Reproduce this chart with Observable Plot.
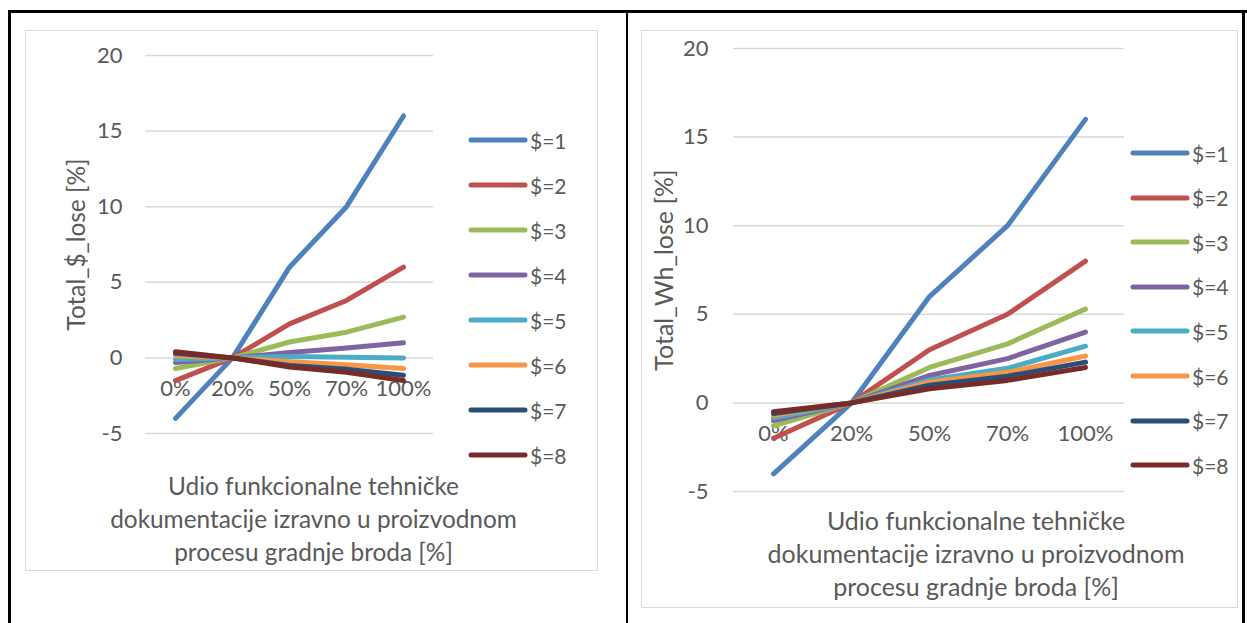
<!DOCTYPE html>
<html>
<head>
<meta charset="utf-8">
<script src="https://cdn.jsdelivr.net/npm/d3@7"></script>
<script src="https://cdn.jsdelivr.net/npm/@observablehq/plot@0.6"></script>
<style>
  html, body { margin: 0; padding: 0; background: #fff; }
  body { width: 1247px; height: 623px; position: relative; overflow: hidden; font-family: Lato, "Open Sans", sans-serif; }
  .line { position: absolute; background: #000; }
  .box { position: absolute; border: 1.5px solid #d9d9d9; box-sizing: border-box; }
  .chart { position: absolute; }
  .leg { position: absolute; display: flex; align-items: center; color: #595959; white-space: nowrap; }
</style>
</head>
<body>
<div class="line" style="left:8px;top:10px;width:1239px;height:2.5px"></div>
<div class="line" style="left:8px;top:10px;width:2.5px;height:613px"></div>
<div class="line" style="left:626px;top:10px;width:2px;height:613px"></div>
<div class="line" style="left:1242px;top:10px;width:2.5px;height:613px"></div>
<div class="box" style="left:25px;top:30px;width:573px;height:541px"></div>
<div class="box" style="left:641px;top:30px;width:597px;height:578px"></div>
<div id="left" class="chart" style="left:25px;top:30px"></div>
<div id="right" class="chart" style="left:641px;top:30px"></div>
<script>
// ---- data ----
const categories = ["0%", "20%", "50%", "70%", "100%"];
const seriesNames = ["$=1", "$=2", "$=3", "$=4", "$=5", "$=6", "$=7", "$=8"];
const seriesColors = ["#4F81BD", "#C0504D", "#9BBB59", "#8064A2", "#4BACC6", "#F79646", "#2C4D75", "#772C2A"];
const yTicks = [-5, 0, 5, 10, 15, 20];

// Total_$_lose [%]
const dollarLose1 = [-4, 0, 6, 10, 16];
const dollarLose2 = [-1.5, 0, 2.25, 3.8, 6];
const dollarLose3 = [-0.7, 0, 1.05, 1.7, 2.7];
const dollarLose4 = [-0.3, 0, 0.35, 0.65, 1.0];
const dollarLose5 = [-0.1, 0, 0.1, 0.05, 0];
const dollarLose6 = [0.15, 0, -0.25, -0.45, -0.7];
const dollarLose7 = [0.3, 0, -0.5, -0.75, -1.15];
const dollarLose8 = [0.4, 0, -0.6, -0.95, -1.5];

// Total_Wh_lose [%]
const whLose1 = [-4, 0, 6, 10, 16];
const whLose2 = [-2, 0, 3, 5, 8];
const whLose3 = [-1.3, 0, 2, 3.33, 5.3];
const whLose4 = [-1.0, 0, 1.55, 2.5, 4];
const whLose5 = [-0.85, 0, 1.3, 1.95, 3.2];
const whLose6 = [-0.7, 0, 1.17, 1.73, 2.65];
const whLose7 = [-0.6, 0, 1.0, 1.5, 2.3];
const whLose8 = [-0.5, 0, 0.8, 1.27, 2];

const xTitle = "Udio funkcionalne tehničke\ndokumentacije izravno u proizvodnom\nprocesu gradnje broda [%]";

function toLong(arrays) {
  const out = [];
  arrays.forEach((arr, i) => arr.forEach((v, j) => out.push({series: seriesNames[i], cat: categories[j], v})));
  return out;
}

const FONT = 22;
const TEXT = "#595959";

function makeChart(o) {
  const data = toLong(o.arrays);
  const plot = Plot.plot({
    width: o.width, height: o.height,
    marginLeft: o.mL, marginRight: o.mR, marginTop: o.mT, marginBottom: o.mB,
    style: {fontFamily: "Lato, 'Open Sans', sans-serif", background: "transparent", overflow: "visible"},
    x: {type: "point", domain: categories, padding: 0.5, axis: null},
    y: {domain: [-5, 20], axis: null},
    color: {domain: seriesNames, range: seriesColors},
    marks: [
      Plot.gridY(yTicks, {stroke: "#d9d9d9", strokeOpacity: 1, strokeWidth: 1.5}),
      Plot.axisY(yTicks, {tickSize: 0, tickPadding: o.tickPad, fontSize: FONT, fill: TEXT, label: null, tickFormat: d => String(d)}),
      Plot.text(categories, {x: d => d, y: d => 0, dy: 31, fontSize: FONT, fill: TEXT}),
      Plot.line(data, {x: "cat", y: "v", z: "series", stroke: "series", strokeWidth: 5, strokeLinecap: "round", strokeLinejoin: "round"}),
      Plot.text([o.yTitle], {text: d => d, frameAnchor: "left", textAnchor: "middle", lineAnchor: "middle", dx: o.yTitleDx, rotate: -90, fontSize: o.titleFont, fill: TEXT}),
      Plot.text([xTitle], {text: d => d, frameAnchor: "bottom", textAnchor: "middle", dx: o.xTitleDx, dy: o.xTitleDy, lineAnchor: "middle", lineHeight: 32.7 / o.titleFont, fontSize: o.titleFont, fill: TEXT})
    ]
  });
  document.getElementById(o.id).appendChild(plot);
  // legend
  seriesNames.forEach((name, i) => {
    const div = document.createElement("div");
    div.className = "leg";
    div.style.left = o.legX + "px";
    div.style.top = (o.legY + i * o.legStep - 12) + "px";
    div.style.height = "24px";
    div.style.fontSize = o.legFont + "px";
    const svg = d3.create("svg").attr("width", 60).attr("height", 24).style("display", "block");
    svg.append("line").attr("x1", 3).attr("x2", 57).attr("y1", 12).attr("y2", 12)
      .attr("stroke", seriesColors[i]).attr("stroke-width", 5).attr("stroke-linecap", "round");
    div.appendChild(svg.node());
    const span = document.createElement("span");
    span.textContent = name;
    span.style.marginLeft = "2px";
    div.appendChild(span);
    document.body.appendChild(div);
  });
}

makeChart({
  id: "left", arrays: [dollarLose1, dollarLose2, dollarLose3, dollarLose4, dollarLose5, dollarLose6, dollarLose7, dollarLose8],
  width: 572, height: 540, mL: 120, mR: 164, mT: 25, mB: 137,
  tickPad: 23, yTitle: "Total_$_lose [%]", titleFont: 24.4, yTitleDx: -68, xTitleDx: 24, xTitleDy: 84,
  legX: 468, legY: 140, legStep: 45, legFont: 21
});
makeChart({
  id: "right", arrays: [whLose1, whLose2, whLose3, whLose4, whLose5, whLose6, whLose7, whLose8],
  width: 596, height: 577, mL: 92, mR: 113, mT: 18, mB: 116,
  tickPad: 25, yTitle: "Total_Wh_lose [%]", titleFont: 25, yTitleDx: -69, xTitleDx: 47, xTitleDy: 61,
  legX: 1130, legY: 153, legStep: 44.6, legFont: 21
});
</script>
</body>
</html>
